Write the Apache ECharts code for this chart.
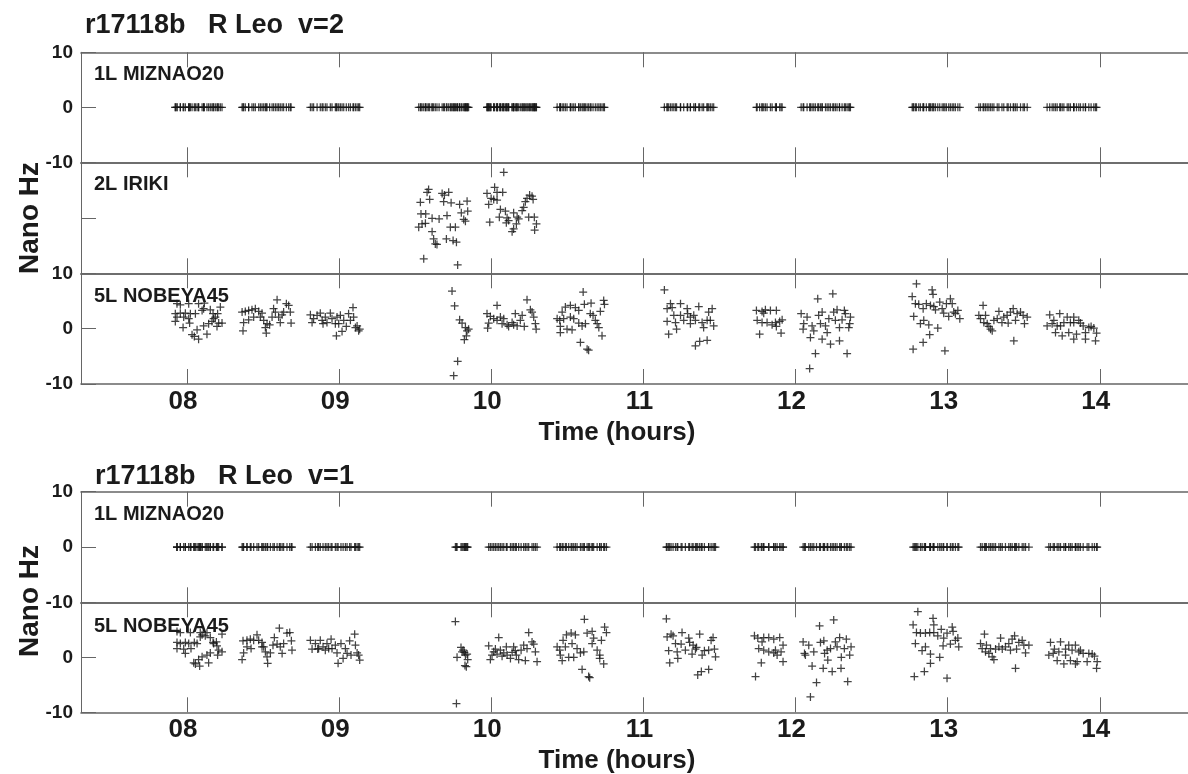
<!DOCTYPE html>
<html>
<head>
<meta charset="utf-8">
<script src="https://cdn.jsdelivr.net/npm/echarts@6/dist/echarts.min.js"></script>
<style>
  html, body { margin: 0; padding: 0; background: #ffffff; }
  #chart { width: 1188px; height: 774px; }
</style>
</head>
<body>
<div id="chart"></div>
<script>
// ---- axis ticks ----
const hourTicks = [8, 9, 10, 11, 12, 13, 14];
const hourLabels = ['08', '09', '10', '11', '12', '13', '14'];
const valueTicks = [-10, 0, 10];

// ---- fringe-rate residuals, [time (h), nano Hz] ----
// v=2, baseline to IRIKI
const irikiV2 = [
  [9.588,5.1],[9.578,4.6],[9.595,3.3],[9.534,2.8],[9.677,4.4],[9.692,4.1],[9.720,4.6],[9.687,2.9],
  [9.736,2.7],[9.792,2.4],[9.841,3.0],[9.845,1.2],[9.803,0.9],[9.819,-0.3],[9.830,-0.6],[9.538,0.7],
  [9.569,0.7],[9.611,-0.1],[9.657,-0.2],[9.709,0.4],[9.545,-1.1],[9.567,-1.0],[9.523,-1.7],[9.611,-2.5],
  [9.731,-1.7],[9.764,-1.7],[9.621,-3.8],[9.632,-4.7],[9.643,-4.8],[9.705,-3.8],[9.749,-4.1],[9.771,-4.4],
  [9.556,-7.4],[9.779,-8.5],
  [10.082,8.2],[10.022,5.5],[9.972,4.4],[10.038,4.6],[10.075,4.6],[9.999,3.5],[10.016,3.3],[10.038,3.2],
  [9.983,2.4],[10.060,1.5],[10.093,1.2],[9.990,-0.8],[10.053,0.1],[10.104,0.0],[10.114,-0.5],[10.099,-0.9],
  [10.147,0.9],[10.170,0.1],[10.180,-0.2],[10.165,-1.1],[10.147,-2.0],[10.137,-2.5],[10.203,1.3],[10.213,1.9],
  [10.224,2.9],[10.235,3.5],[10.252,4.1],[10.268,3.9],[10.275,3.3],[10.246,0.1],[10.283,0.1],[10.297,-1.1],
  [10.285,-2.2]
];

// v=2, baseline to NOBEYA45
const nobeyaV2 = [
  [7.934,4.5],[7.956,4.3],[8.011,4.5],[8.076,4.5],[8.114,4.6],[7.923,2.7],[7.956,2.8],[7.989,2.8],
  [8.022,2.7],[8.055,2.7],[7.934,2.1],[7.923,1.3],[7.978,2.1],[8.011,1.8],[7.974,0.2],[8.017,1.0],
  [8.099,3.3],[8.109,3.6],[8.153,3.4],[8.171,2.7],[8.186,2.1],[8.201,2.7],[8.219,3.9],[8.164,1.3],
  [8.208,1.0],[8.230,1.0],[8.197,0.4],[8.142,0.9],[8.109,0.5],[8.066,-0.2],[8.033,-1.1],[8.048,-1.4],
  [8.076,-1.9],[8.131,-1.0],[8.175,1.8],
  [8.362,3.0],[8.383,3.1],[8.405,3.3],[8.427,3.4],[8.449,3.6],[8.471,3.1],[8.493,2.8],[8.372,1.1],
  [8.368,-0.4],[8.405,1.6],[8.438,2.1],[8.504,1.5],[8.515,0.2],[8.526,0.9],[8.521,-0.8],[8.543,0.7],
  [8.569,3.6],[8.592,5.2],[8.581,3.0],[8.602,2.1],[8.625,2.5],[8.635,3.0],[8.653,4.5],[8.668,4.2],
  [8.679,3.0],[8.613,1.1],[8.684,1.0],[8.559,2.1],[8.482,2.1],
  [8.811,2.5],[8.832,1.8],[8.822,1.1],[8.855,2.4],[8.876,2.8],[8.888,1.5],[8.909,2.1],[8.920,1.1],
  [8.942,2.8],[8.953,1.8],[8.975,0.9],[8.982,-1.3],[8.986,2.1],[9.008,2.4],[9.019,-0.5],[9.030,1.5],
  [9.047,0.4],[9.062,2.7],[9.074,1.5],[9.091,3.8],[9.095,2.1],[9.107,0.2],[9.118,0.5],[9.128,-0.4],
  [9.135,-0.1],[8.894,0.9],[8.997,0.9],
  [9.742,6.8],[9.759,4.1],[9.792,1.6],[9.808,1.0],[9.830,0.2],[9.841,-0.4],[9.836,-1.3],[9.823,-2.0],
  [9.851,-0.1],[9.779,-5.9],[9.753,-8.5],
  [10.038,4.2],[9.972,2.7],[9.994,2.2],[9.983,1.0],[9.976,0.1],[10.016,1.8],[10.038,1.5],[10.060,2.1],
  [10.082,1.8],[10.104,0.7],[10.114,0.4],[10.137,1.1],[10.158,2.7],[10.170,0.5],[10.191,1.5],[10.203,2.4],
  [10.217,0.4],[10.235,5.2],[10.257,3.4],[10.268,3.0],[10.279,2.1],[10.290,0.9],[10.295,-0.1],[10.147,0.7],
  [10.071,0.9],
  [10.604,6.6],[10.433,1.8],[10.450,1.5],[10.466,3.0],[10.487,3.9],[10.520,4.2],[10.553,3.8],[10.476,1.8],
  [10.454,0.4],[10.454,-0.7],[10.498,-0.1],[10.531,-0.2],[10.520,2.1],[10.542,1.8],[10.575,1.0],[10.597,0.5],
  [10.619,0.9],[10.612,4.4],[10.656,4.6],[10.651,2.7],[10.669,2.4],[10.684,1.5],[10.696,0.9],[10.707,0.2],
  [10.717,3.1],[10.739,5.1],[10.744,4.4],[10.728,-1.3],[10.586,-2.5],[10.630,-3.7],[10.640,-3.9],[10.575,3.3],
  [11.138,7.0],[11.156,3.6],[11.178,4.5],[11.189,3.8],[11.156,1.3],[11.166,-1.0],[11.200,2.4],[11.211,1.1],
  [11.218,-0.1],[11.244,4.5],[11.244,2.4],[11.265,1.5],[11.288,3.6],[11.291,2.7],[11.309,2.1],[11.309,0.9],
  [11.331,2.4],[11.342,1.5],[11.364,4.0],[11.386,1.1],[11.396,0.2],[11.419,1.5],[11.440,1.5],[11.429,3.0],
  [11.452,3.6],[11.462,0.5],[11.342,-3.1],[11.370,-2.3],[11.419,-2.1],
  [11.743,3.3],[11.780,3.1],[11.802,3.4],[11.835,3.3],[11.874,3.3],[11.748,1.5],[11.780,1.1],[11.813,1.1],
  [11.846,0.7],[11.868,1.1],[11.896,1.3],[11.912,1.6],[11.764,-1.0],[11.874,0.4],[11.905,-0.8],[11.791,2.8],
  [12.037,2.7],[12.050,-0.1],[12.054,0.9],[12.076,2.1],[12.098,-1.6],[12.109,0.5],[12.120,-0.4],[12.131,-4.5],
  [12.093,-7.2],[12.146,5.4],[12.152,2.4],[12.175,3.0],[12.164,0.9],[12.175,-1.9],[12.197,0.5],[12.208,-0.7],
  [12.219,1.8],[12.230,-2.8],[12.245,6.3],[12.251,3.0],[12.262,1.5],[12.273,3.4],[12.289,0.2],[12.289,-2.2],
  [12.306,1.6],[12.321,3.3],[12.328,2.7],[12.339,-4.5],[12.350,0.2],[12.361,2.1],[12.356,0.9],
  [12.795,8.1],[12.767,5.8],[12.898,7.0],[12.904,6.2],[12.788,4.5],[12.810,4.4],[12.839,3.6],[12.860,4.5],
  [12.887,4.2],[12.909,4.0],[12.920,3.4],[12.948,4.8],[12.964,3.6],[12.974,2.8],[12.992,4.5],[13.018,5.4],
  [13.030,4.5],[13.040,3.0],[13.051,2.7],[13.067,3.3],[13.080,1.8],[13.007,2.2],[12.777,2.2],[12.821,0.9],
  [12.843,1.5],[12.876,0.7],[12.935,0.1],[12.882,-1.1],[12.839,-2.5],[12.773,-3.7],[12.982,-4.0],
  [13.233,4.2],[13.205,2.4],[13.216,1.8],[13.249,2.4],[13.238,1.1],[13.260,0.9],[13.282,-0.1],[13.293,-0.4],
  [13.304,1.5],[13.326,1.8],[13.337,3.1],[13.357,1.1],[13.369,2.1],[13.391,2.4],[13.398,1.0],[13.413,3.0],
  [13.431,3.6],[13.446,1.5],[13.457,2.7],[13.479,3.0],[13.496,2.4],[13.505,0.9],[13.523,2.1],[13.435,-2.2],
  [13.271,0.4],
  [13.654,0.5],[13.671,2.5],[13.687,0.9],[13.698,1.5],[13.709,-0.7],[13.720,0.5],[13.737,2.7],[13.753,-1.3],
  [13.764,1.1],[13.786,2.1],[13.796,-0.7],[13.807,1.1],[13.829,2.1],[13.829,-1.9],[13.847,-1.0],[13.862,1.5],
  [13.873,1.0],[13.891,0.5],[13.906,-0.7],[13.906,-1.9],[13.928,0.2],[13.943,0.4],[13.961,0.1],[13.979,-0.8],
  [13.972,-2.2],[13.829,1.1],[13.742,0.5]
];

// v=1, baseline to NOBEYA45
const nobeyaV1 = [
  [7.934,4.7],[7.956,4.5],[8.022,4.5],[8.087,4.5],[8.131,4.5],[8.230,4.2],[7.934,2.7],[7.956,2.5],
  [7.989,2.7],[8.011,2.5],[8.048,2.7],[7.934,1.6],[7.978,1.5],[7.989,0.7],[8.026,1.6],[8.066,2.5],
  [8.087,3.7],[8.099,4.1],[8.120,3.9],[8.153,3.6],[8.171,2.7],[8.193,2.8],[8.197,2.1],[8.208,1.3],
  [8.230,1.0],[8.201,0.4],[8.153,0.8],[8.131,0.4],[8.099,0.1],[8.076,-0.4],[8.044,-1.0],[8.055,-1.2],
  [8.083,-1.6],[8.142,-1.0],[8.175,2.5],
  [8.362,-0.4],[8.372,0.8],[8.368,3.0],[8.394,3.1],[8.416,3.3],[8.438,3.1],[8.460,4.1],[8.471,3.1],
  [8.493,2.7],[8.394,1.9],[8.421,1.6],[8.504,1.9],[8.515,1.0],[8.526,0.1],[8.530,-1.1],[8.548,0.8],
  [8.574,3.6],[8.607,5.3],[8.592,2.4],[8.613,1.9],[8.625,0.7],[8.635,2.5],[8.657,4.4],[8.675,4.5],
  [8.686,3.0],[8.690,1.3],[8.565,2.2],[8.493,1.9],
  [8.811,3.1],[8.822,1.5],[8.844,2.5],[8.859,1.5],[8.876,3.1],[8.894,1.9],[8.909,1.3],[8.920,2.5],
  [8.947,3.3],[8.953,1.6],[8.975,2.2],[8.986,0.8],[8.993,-1.1],[9.012,2.5],[9.026,-0.2],[9.041,1.6],
  [9.052,0.7],[9.069,3.0],[9.078,0.4],[9.102,4.2],[9.107,2.2],[9.118,0.8],[9.128,0.4],[9.135,-0.5],
  [8.865,1.6],[8.931,1.6],
  [9.764,6.5],[9.801,1.8],[9.815,1.3],[9.775,0.0],[9.841,0.6],[9.845,-0.4],[9.836,-1.7],[9.771,-8.4],
  [9.808,1.0],[9.823,0.9],[9.830,0.4],[9.827,-1.5],
  [10.049,3.6],[9.983,2.1],[9.994,-0.4],[10.005,0.4],[10.027,1.5],[10.060,1.3],[10.082,0.8],[10.104,0.4],
  [10.126,-0.2],[10.147,1.9],[10.165,0.4],[10.180,-0.4],[10.196,1.3],[10.213,2.2],[10.224,-0.6],[10.246,4.5],
  [10.268,2.8],[10.279,2.4],[10.290,1.0],[10.301,-0.8],[10.099,1.9],[10.038,0.6],[10.016,1.0],[10.071,0.2],
  [10.137,0.9],[10.158,1.2],[10.235,1.6],
  [10.612,6.9],[10.433,1.9],[10.450,1.3],[10.454,0.4],[10.466,-0.6],[10.472,3.1],[10.494,4.1],[10.525,4.4],
  [10.553,4.1],[10.487,1.9],[10.509,0.0],[10.542,0.0],[10.531,2.5],[10.564,1.6],[10.586,0.8],[10.608,1.0],
  [10.630,4.4],[10.663,4.7],[10.663,2.5],[10.673,3.5],[10.696,1.3],[10.713,0.4],[10.724,3.1],[10.745,5.5],
  [10.757,4.5],[10.739,-1.2],[10.597,-2.2],[10.640,-3.5],[10.647,-3.7],[10.713,-0.2],
  [11.151,7.0],[11.156,3.7],[11.182,4.2],[11.195,3.9],[11.166,1.2],[11.173,-1.0],[11.211,2.5],[11.222,1.0],
  [11.226,-0.2],[11.254,4.5],[11.248,2.4],[11.276,1.3],[11.298,3.5],[11.304,2.7],[11.327,2.2],[11.320,0.6],
  [11.342,1.5],[11.370,4.2],[11.386,0.4],[11.401,1.2],[11.429,1.3],[11.445,3.1],[11.458,3.6],[11.467,1.5],
  [11.474,0.1],[11.357,-3.2],[11.381,-2.6],[11.429,-2.2],[11.349,1.8],
  [11.730,3.9],[11.752,3.5],[11.791,3.6],[11.824,3.6],[11.857,3.3],[11.896,3.6],[11.758,1.6],[11.780,2.8],
  [11.791,1.3],[11.824,1.0],[11.857,0.8],[11.879,0.4],[11.905,1.0],[11.918,2.2],[11.775,-1.0],[11.737,-3.5],
  [11.918,-0.8],[11.868,1.3],
  [12.050,2.8],[12.059,0.7],[12.065,0.4],[12.087,2.2],[12.109,-1.6],[12.120,1.0],[12.138,-4.6],[12.098,-7.2],
  [12.158,5.7],[12.164,2.7],[12.186,3.0],[12.182,-2.0],[12.191,0.7],[12.212,-0.5],[12.230,1.6],[12.241,-2.6],
  [12.251,6.8],[12.262,2.8],[12.273,1.9],[12.290,3.6],[12.301,0.0],[12.299,-2.0],[12.321,1.6],[12.334,3.3],
  [12.343,-4.4],[12.356,0.4],[12.365,1.9],[12.208,1.3],
  [12.804,8.3],[12.773,5.9],[12.904,7.1],[12.909,5.9],[12.795,4.5],[12.821,4.4],[12.854,4.4],[12.882,4.5],
  [12.909,4.5],[12.935,3.9],[12.958,5.1],[12.974,3.5],[12.996,4.4],[13.030,5.5],[13.036,4.7],[13.018,2.4],
  [13.051,3.1],[13.067,3.5],[13.073,1.9],[12.970,2.1],[12.788,2.5],[12.854,1.9],[12.832,1.2],[12.887,0.6],
  [12.948,0.0],[12.887,-1.1],[12.847,-2.6],[12.781,-3.5],[12.996,-3.8],
  [13.242,4.2],[13.216,2.5],[13.227,1.6],[13.255,2.2],[13.249,1.0],[13.282,1.6],[13.293,0.1],[13.304,-0.4],
  [13.315,1.5],[13.337,1.9],[13.348,3.5],[13.359,1.5],[13.380,1.9],[13.402,2.5],[13.413,1.3],[13.424,3.3],
  [13.440,3.9],[13.453,1.5],[13.468,2.7],[13.490,3.1],[13.501,2.2],[13.512,0.8],[13.534,2.2],[13.446,-2.0],
  [13.271,0.7],
  [13.665,0.4],[13.676,2.7],[13.694,0.7],[13.702,1.5],[13.720,-0.6],[13.731,1.0],[13.742,2.8],[13.764,-1.2],
  [13.775,1.5],[13.796,2.2],[13.807,-0.6],[13.818,1.3],[13.840,2.2],[13.840,-1.2],[13.862,1.0],[13.873,1.3],
  [13.891,0.7],[13.917,-0.8],[13.928,0.7],[13.950,0.6],[13.965,0.2],[13.983,-0.8],[13.979,-2.0],[13.851,-0.8],
  [13.775,0.4]
];

// MIZNAO20 is the reference station: it sits at zero at every sample time of its scans
const referenceRow = (...sets) => sets.flat().map(p => [p[0], 0]);
const miznaoV2 = referenceRow(irikiV2, nobeyaV2);
const miznaoV1 = referenceRow(nobeyaV1);

// ---- look ----
const FONT = "'Liberation Sans', Arial, Helvetica, sans-serif";
const INK = '#1b1b1b';
const AXIS = '#666666';
const MARK = '#141414';
const PLUS = 'path://M0,5L10,5M5,0L5,10';
const X_MIN = 7.303, X_MAX = 14.58;

// panel frames (px) and which value labels each one prints (order: -10, 0, 10)
const panels = [
  { top: 52.3,  bottom: 162.3, yShow: [true, true, true],    xLabels: false, label: '1L MIZNAO20', labelTop: 64.8 },
  { top: 162.3, bottom: 273.3, yShow: [false, false, false], xLabels: false, label: '2L IRIKI',    labelTop: 174.8 },
  { top: 273.3, bottom: 384,   yShow: [true, true, true],    xLabels: true,  label: '5L NOBEYA45', labelTop: 286 },
  { top: 491.7, bottom: 602.3, yShow: [true, true, true],    xLabels: false, label: '1L MIZNAO20', labelTop: 504.3 },
  { top: 602.3, bottom: 712.3, yShow: [true, true, false],   xLabels: true,  label: '5L NOBEYA45', labelTop: 616 }
];
const panelSeries = [miznaoV2, irikiV2, nobeyaV2, miznaoV1, nobeyaV1];

const boldText = (size) => ({ fontFamily: FONT, fontWeight: 'bold', fontSize: size, color: INK });

const grids = [], xAxes = [], yAxes = [], series = [];
panels.forEach((p, i) => {
  grids.push({ left: 81, right: 0, top: p.top, height: p.bottom - p.top, outerBoundsMode: 'none' });
  const tickStyle = { color: AXIS, width: 1 };
  // bottom edge with hour labels on the lowest panel of each figure
  xAxes.push({
    type: 'value', gridIndex: i, position: 'bottom', min: X_MIN, max: X_MAX,
    splitLine: { show: false },
    axisLine: { show: true, onZero: false, lineStyle: { color: AXIS, width: 1.6 } },
    axisTick: { show: true, inside: true, length: 15, customValues: hourTicks, lineStyle: tickStyle },
    axisLabel: {
      show: p.xLabels, customValues: hourTicks, margin: 5,
      formatter: v => hourLabels[hourTicks.indexOf(Math.round(v))],
      padding: [0, 8, 0, 0],
      ...boldText(26)
    },
    name: p.xLabels ? 'Time (hours)' : '',
    nameLocation: 'middle', nameGap: 36,
    nameTextStyle: { ...boldText(26), padding: [0, 35, 0, 0] }
  });
  // top edge: ticks only
  xAxes.push({
    type: 'value', gridIndex: i, position: 'top', min: X_MIN, max: X_MAX,
    splitLine: { show: false },
    axisLine: { show: true, onZero: false, lineStyle: { color: AXIS, width: 1.6 } },
    axisTick: { show: true, inside: true, length: 15, customValues: hourTicks, lineStyle: tickStyle },
    axisLabel: { show: false }
  });
  yAxes.push({
    type: 'value', gridIndex: i, min: -10, max: 10, interval: 10,
    splitLine: { show: false },
    axisLine: { show: true, onZero: false, lineStyle: { color: AXIS, width: 1 } },
    axisTick: { show: true, inside: true, length: 15, lineStyle: tickStyle },
    axisLabel: {
      margin: 8,
      formatter: v => (p.yShow[valueTicks.indexOf(v)] ? String(v) : ''),
      ...boldText(19)
    }
  });
  series.push({
    type: 'scatter', xAxisIndex: 2 * i, yAxisIndex: i,
    data: panelSeries[i],
    symbol: PLUS, symbolSize: 8,
    itemStyle: { color: 'transparent', borderColor: MARK, borderWidth: 1.25 },
    silent: true, animation: false
  });
});

const titles = [
  { text: 'r17118b   R Leo  v=2', left: 85, top: 12, padding: 0, textStyle: boldText(27) },
  { text: 'r17118b   R Leo  v=1', left: 95, top: 463, padding: 0, textStyle: boldText(27) }
].concat(panels.map(p => ({
  text: p.label, left: 94, top: p.labelTop, padding: 0, textStyle: boldText(20)
})));

const chart = echarts.init(document.getElementById('chart'), null, { renderer: 'canvas' });
chart.setOption({
  backgroundColor: '#ffffff',
  animation: false,
  title: titles,
  grid: grids,
  xAxis: xAxes,
  yAxis: yAxes,
  series: series,
  graphic: [
    { type: 'text', x: 30, y: 218, rotation: Math.PI / 2,
      style: { text: 'Nano Hz', fill: INK, font: `bold 28px ${FONT}`, align: 'center', verticalAlign: 'middle' } },
    { type: 'text', x: 30, y: 601, rotation: Math.PI / 2,
      style: { text: 'Nano Hz', fill: INK, font: `bold 28px ${FONT}`, align: 'center', verticalAlign: 'middle' } }
  ]
});
</script>
</body>
</html>
